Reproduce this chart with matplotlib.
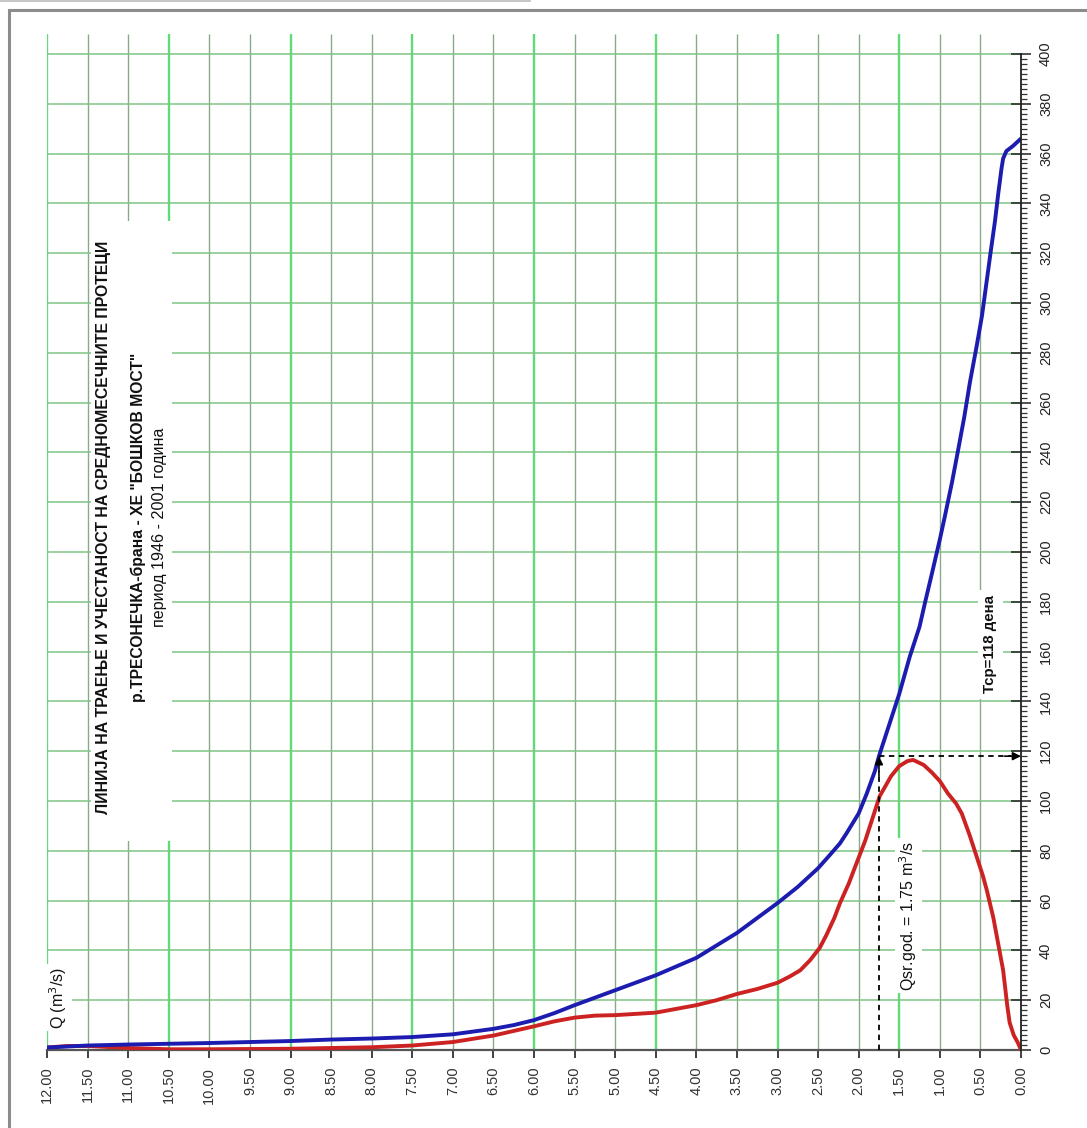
import matplotlib
matplotlib.use("Agg")
import matplotlib.pyplot as plt
from matplotlib.patches import Rectangle
from matplotlib.ticker import MultipleLocator, FormatStrFormatter

plt.rcParams["font.family"] = ["Liberation Sans Narrow", "Liberation Sans", "DejaVu Sans"]

# duration curve (blue): discharge Q [m3/s] vs. number of days
q_dur = [12.0, 11.5, 11.0, 10.5, 10.0, 9.5, 9.0, 8.5, 8.0, 7.5, 7.0, 6.5, 6.25,
         6.0, 5.75, 5.5, 5.25, 5.0, 4.5, 4.0, 3.75, 3.5, 3.25, 3.0, 2.75, 2.5,
         2.35, 2.23, 2.15, 2.0, 1.9, 1.8, 1.75, 1.6, 1.5, 1.37, 1.25, 1.18, 1.1,
         1.0, 0.94, 0.85, 0.78, 0.7, 0.63, 0.55, 0.48, 0.38, 0.32, 0.28, 0.24,
         0.22, 0.18, 0.10, 0.0]
d_dur = [1, 1.8, 2.2, 2.5, 2.8, 3.2, 3.6, 4.2, 4.6, 5.2, 6.3, 8.5, 10,
         12, 14.8, 18, 21, 24, 30, 37, 42, 47, 53, 59, 65.5, 73,
         78.5, 83, 87, 95, 103, 112, 118, 133, 143, 158, 170, 180, 191,
         205, 214, 228, 240, 254, 268, 282, 295, 319, 333, 344, 354,
         358, 361, 363, 366]

# frequency curve (red)
q_freq = [12.0, 11.75, 11.5, 11.0, 10.5, 10.0, 9.5, 9.0, 8.5, 8.0, 7.5, 7.0,
          6.5, 6.0, 5.75, 5.5, 5.25, 5.0, 4.5, 4.0, 3.75, 3.5, 3.25, 3.0, 2.85,
          2.72, 2.6, 2.48, 2.4, 2.3, 2.23, 2.12, 2.05, 1.92, 1.85, 1.74, 1.6,
          1.5, 1.4, 1.33, 1.2, 1.1, 1.0, 0.9, 0.8, 0.73, 0.63, 0.55, 0.47,
          0.42, 0.34, 0.26, 0.22, 0.17, 0.14, 0.09, 0.04, 0.0]
d_freq = [1, 1.6, 1.6, 0.8, 0.3, 0.3, 0.4, 0.5, 0.8, 1.1, 1.8, 3.2,
          5.8, 9.5, 11.5, 13, 13.8, 14, 15, 18, 20, 22.5, 24.5, 27, 29.5,
          32, 36, 41, 46, 53, 59, 67, 73, 84, 91, 102, 110,
          114, 116, 116.5, 114.5, 111.5, 108, 103, 99, 95, 86, 78, 70,
          64, 53, 39, 32, 18, 11, 6, 3, 0]

q_mean = 1.75
t_mean = 118

title_lines = [
    "ЛИНИЈА НА ТРАЕЊЕ И УЧЕСТАНОСТ НА СРЕДНОМЕСЕЧНИТЕ ПРОТЕЦИ",
    "р.ТРЕСОНЕЧКА-брана - ХЕ \"БОШКОВ МОСТ\"",
    "период 1946 - 2001 година",
]

fig = plt.figure(figsize=(10.87, 11.28), dpi=100)

# outer frame
fig.patches.append(Rectangle((9 / 1087, -0.01), 1.02, (1118 / 1128) + 0.01,
                             transform=fig.transFigure, fill=False,
                             edgecolor="#8c8c8c", linewidth=2.2))
fig.lines.append(plt.Line2D([0, 530 / 1087], [1 - 1 / 1128, 1 - 1 / 1128],
                            transform=fig.transFigure, color="#bbbbbb", lw=1.2))

ax = fig.add_axes([47 / 1087, 78 / 1128, 974 / 1087, 1016 / 1128])
ax.set_xlim(12, 0)
ax.set_ylim(0, 408)

# grid
for i in range(1, 25):
    q = i * 0.5
    if i % 3 == 0:
        ax.vlines(q, 0, 408, color="#5fdc78", lw=1.7, zorder=1)
    else:
        ax.vlines(q, 0, 408, color="#8aa98c", lw=1.0, zorder=1)
for d in range(20, 401, 20):
    ax.hlines(d, 12, 0, color="#7fc484", lw=1.1, zorder=1)

ax.plot(q_freq, d_freq, color="#cc2222", lw=2.8, zorder=4, solid_capstyle="round")
ax.plot(q_dur, d_dur, color="#1c1cb0", lw=2.8, zorder=5, solid_capstyle="round")

# mean flow / mean duration
ax.plot([q_mean, q_mean], [0, t_mean - 6], color="black", lw=1.3, ls=(0, (3, 2.5)), zorder=6)
ax.plot([q_mean, 0.12], [t_mean, t_mean], color="black", lw=1.3, ls=(0, (3, 2.5)), zorder=6)
ax.annotate("", xy=(q_mean, t_mean), xytext=(q_mean, t_mean - 8),
            arrowprops=dict(arrowstyle="-|>", color="black", lw=1.2,
                            mutation_scale=12, shrinkA=0, shrinkB=0), zorder=7)
ax.annotate("", xy=(0, t_mean), xytext=(0.2, t_mean),
            arrowprops=dict(arrowstyle="-|>", color="black", lw=1.2,
                            mutation_scale=12, shrinkA=0, shrinkB=0), zorder=7)

# text boxes
ax.add_patch(Rectangle((11.46, 84), -1.0, 249, facecolor="white", edgecolor="none", zorder=2))
ax.text(11.31, 210, title_lines[0], rotation=90, ha="center", va="center",
        fontsize=11.4, fontweight="bold", color="#111111", zorder=3)
ax.text(10.88, 210, title_lines[1], rotation=90, ha="center", va="center",
        fontsize=11.3, fontweight="bold", color="#111111", zorder=3)
ax.text(10.61, 210, title_lines[2], rotation=90, ha="center", va="center",
        fontsize=11.6, color="#111111", zorder=3)

ax.text(11.86, 21, "Q (m$^3$/s)", rotation=90, ha="center", va="center",
        fontsize=11.5, color="#111111", zorder=3,
        bbox=dict(facecolor="white", edgecolor="none", pad=2))
ax.text(1.39, 54, "Qsr.god. = 1.75 m$^3$/s", rotation=90, ha="center", va="center",
        fontsize=11.5, color="#111111", zorder=3,
        bbox=dict(facecolor="white", edgecolor="none", pad=2))
ax.text(0.38, 163, "Тср=118 дена", rotation=90, ha="center", va="center",
        fontsize=10.8, fontweight="bold", color="#111111", zorder=3,
        bbox=dict(facecolor="white", edgecolor="none", pad=4))

# axes styling
for s in ["left", "top"]:
    ax.spines[s].set_visible(False)
ax.spines["right"].set_bounds(0, 400)
ax.spines["right"].set_color("#222222")
ax.spines["bottom"].set_color("#555555")
ax.spines["bottom"].set_linewidth(1.6)
ax.spines["right"].set_linewidth(1.3)
ax.spines["right"].set_zorder(8)

ax.yaxis.tick_right()
ax.set_yticks(range(0, 401, 20))
ax.set_yticks([v for v in range(0, 401, 2) if v % 20], minor=True)
ax.tick_params(axis="y", which="major", direction="inout", length=14, width=1.1,
               labelsize=10.5, pad=6, labelrotation=90, colors="#222222")
ax.tick_params(axis="y", which="minor", direction="out", length=4, width=0.9, colors="#333333")
for lab in ax.get_yticklabels():
    lab.set_va("center")

ax.xaxis.set_major_locator(MultipleLocator(0.5))
ax.xaxis.set_major_formatter(FormatStrFormatter("%.2f"))
ax.tick_params(axis="x", which="major", direction="out", length=6, width=1.3,
               labelsize=10.5, pad=6, labelrotation=90, colors="#333333")

fig.savefig("out.png", dpi=100)
